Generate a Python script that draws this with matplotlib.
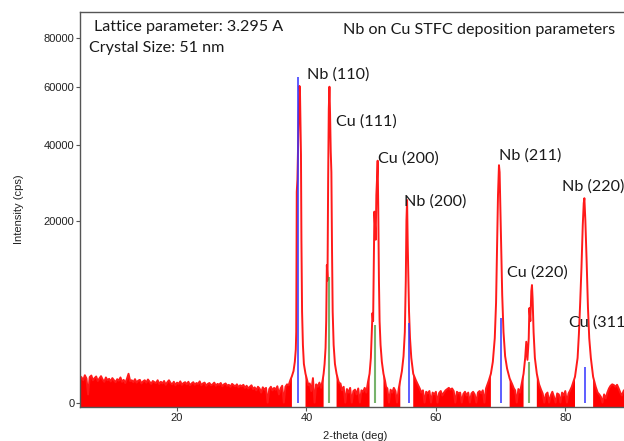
import numpy as np
import matplotlib
matplotlib.use("Agg")
import matplotlib.pyplot as plt

# background noise, 0.25 deg steps (start, counts)
bg_segments = [
    (5.0, [420, 380, 300, 450, 350, 40, 390, 440, 300, 360,
           410, 280, 350, 420, 320, 260, 380, 300, 340, 270,
           360, 300, 250, 330, 290, 380, 260, 310, 230, 340,
           500, 280, 300, 250, 330, 240, 290, 310, 220, 270,
           300, 240, 320, 260, 210, 280, 250, 230, 300, 210,
           260, 220, 280, 190, 250, 300, 230, 200, 260, 180,
           240, 210, 270, 190, 230, 250, 200, 260, 180, 220,
           250, 190, 230, 210, 270, 180, 220, 240, 170, 210,
           230, 180, 200, 240, 170, 210, 190, 230, 160, 200,
           220, 170, 190, 150, 210, 180, 160, 200, 140, 180,
           160, 190, 130, 170, 120, 150, 180, 110, 140, 90,
           150, 120, 60, 140, 100, 130, 0, 110, 150, 90,
           130, 100, 160, 40, 120, 170, 0, 150, 200, 180]),
    (40.5, [220, 80, 360, 0, 200, 150, 240, 130]),
    (45.25, [220, 90, 150, 0, 110, 60, 130, 0, 80, 100, 40, 120, 0, 90, 70, 130, 60]),
    (52.5, [120, 0, 100, 60, 130, 80, 0, 110]),
    (57.5, [120, 60, 90, 0, 70, 50, 80, 0, 60,
            40, 70, 0, 55, 80, 30, 60, 90, 110, 130,
            100, 120, 80, 0, 70, 50, 60, 0, 45, 70,
            30, 60, 0, 50, 70, 40, 0, 60, 80, 50,
            90, 0, 120]),
    (72.25, [90, 0, 110, 60]),
    (76.5, [50, 0, 40, 60, 0, 30, 70, 20, 0, 50, 40, 0, 60, 30, 80, 0, 50, 90]),
    (85.5, [20, 0, 40, 10, 60, 120, 170, 200, 185, 150, 190, 120, 60, 30, 80, 110, 60, 90, 130]),
]

# peak profiles (2-theta, counts)
nb110 = [(37.5, 300), (37.75, 420), (38.0, 600), (38.2, 1000), (38.35, 1700), (38.42, 3000),
         (38.5, 26800), (38.6, 30000), (38.7, 40000), (38.8, 50000), (38.92, 60500),
         (39.0, 58000), (39.08, 45000), (39.15, 37000), (39.22, 16000), (39.32, 5000),
         (39.45, 2000), (39.6, 900), (39.85, 500), (40.1, 300), (40.3, 180)]
cu111 = [(42.5, 300), (42.65, 500), (42.8, 900), (42.95, 1800), (43.05, 4000), (43.15, 11400),
         (43.25, 9000), (43.35, 30000), (43.45, 52000), (43.55, 60200), (43.65, 50000),
         (43.75, 38000), (43.85, 32000), (43.95, 14000), (44.05, 5000), (44.2, 2000),
         (44.4, 900), (44.65, 500), (44.9, 300), (45.05, 230)]
cu200 = [(49.5, 250), (49.75, 500), (49.95, 1200), (50.1, 3000), (50.2, 4830), (50.3, 4000),
         (50.4, 12000), (50.5, 22000), (50.6, 19000), (50.7, 16000), (50.8, 26000),
         (50.9, 30000), (51.0, 35300), (51.1, 22000), (51.2, 9000), (51.3, 4000),
         (51.45, 2000), (51.65, 1000), (51.9, 500), (52.15, 280), (52.3, 150)]
nb200 = [(54.5, 300), (54.75, 600), (55.0, 1300), (55.2, 3000), (55.35, 9000), (55.45, 20000),
         (55.55, 24750), (55.65, 15000), (55.75, 9000), (55.85, 5000), (56.0, 2500),
         (56.2, 1200), (56.5, 500), (56.9, 300), (57.2, 200)]
nb211 = [(68.2, 300), (68.5, 500), (68.8, 1000), (69.1, 2500), (69.3, 6000), (69.45, 14000),
         (69.6, 26000), (69.75, 34000), (69.85, 32000), (69.95, 24000), (70.1, 15000),
         (70.25, 7000), (70.45, 3000), (70.7, 1300), (71.0, 700), (71.4, 350), (71.8, 200),
         (72.05, 120)]
cu220 = [(73.3, 250), (73.55, 500), (73.8, 1200), (73.97, 2230), (74.15, 1100), (74.35, 2500),
         (74.45, 5390), (74.6, 4000), (74.75, 7500), (74.85, 8330), (74.95, 6500),
         (75.1, 3000), (75.3, 1200), (75.6, 500), (75.95, 200), (76.25, 100)]
nb220 = [(81.0, 150), (81.5, 400), (81.9, 1200), (82.1, 2800), (82.3, 6000), (82.5, 11000),
         (82.7, 19000), (82.85, 24000), (82.95, 25200), (83.1, 20000), (83.3, 12000),
         (83.5, 5500), (83.7, 2500), (83.95, 1200), (84.3, 400), (84.7, 150), (85.0, 60),
         (85.25, 40)]

# reference lines
nb_ref_pos = [38.76, 55.87, 70.05, 83.04]
nb_ref_int = [63850, 3800, 4340, 773]
cu_ref_pos = [43.45, 50.6, 74.38]
cu_ref_int = [9450, 3630, 1000]

peak_labels = ["Nb (110)", "Cu (111)", "Cu (200)", "Nb (200)", "Nb (211)", "Cu (220)", "Nb (220)", "Cu (311)"]
label_x = [40.1, 44.59, 51.08, 55.1, 69.79, 71.03, 79.53, 80.62]
label_y = [64760, 47530, 35800, 24280, 36680, 10125, 28030, 3910]

pts = []
for start, vals in bg_segments:
    for i, v in enumerate(vals):
        pts.append((start + 0.25 * i, v))
for pk in [nb110, cu111, cu200, nb200, nb211, cu220, nb220]:
    pts.extend(pk)
pts.sort()
two_theta = np.array([p[0] for p in pts])
counts = np.array([p[1] for p in pts], dtype=float)


def fwd(v):
    v = np.asarray(v, dtype=float)
    return np.sign(v) * np.sqrt(np.abs(v))


def inv(v):
    v = np.asarray(v, dtype=float)
    return np.sign(v) * v ** 2


fig = plt.figure(figsize=(6.24, 4.41), dpi=100)
ax = fig.add_axes([80 / 624, 1 - 407 / 441, 550 / 624, 395 / 441])
ax.set_yscale('function', functions=(fwd, inv))

# noisy background looks solid in the original scan
ax.fill_between(two_theta, -12, counts, where=counts <= 520, color='red', lw=0)
ax.plot(two_theta, counts, color='#ff1a1a', lw=1.4)
ax.vlines(nb_ref_pos, 0, nb_ref_int, color='#3333ff', lw=1.3, alpha=0.85)
ax.vlines(cu_ref_pos, 0, cu_ref_int, color='#4a9a3a', lw=1.5, alpha=0.75)

ax.set_xlim(5, 90)
ax.set_ylim(-12, 92060)
ax.set_yticks([0, 20000, 40000, 60000, 80000])
ax.set_xticks([20, 40, 60, 80])
ax.yaxis.set_minor_locator(matplotlib.ticker.NullLocator())

tick_font = 'Liberation Sans'
for lab in ax.get_xticklabels() + ax.get_yticklabels():
    lab.set_fontfamily(tick_font)
    lab.set_fontsize(8)
ax.tick_params(length=3, width=0.8, color='#555555', labelcolor='#222222', pad=1)
ax.set_xlabel('2-theta (deg)', fontsize=8, family=tick_font, color='#222222', labelpad=6)
ax.set_ylabel('Intensity (cps)', fontsize=8, family=tick_font, color='#222222', labelpad=14)
for s in ['left', 'bottom', 'top']:
    ax.spines[s].set_color('#555555')
    ax.spines[s].set_linewidth(1.0)
ax.spines['right'].set_visible(False)

anno_font = 'Lato'
anno_size = 11.6
for t, x, y in zip(peak_labels, label_x, label_y):
    ax.text(x, y, t, fontsize=anno_size, family=anno_font, color='#1a1a1a', ha='left', va='center', clip_on=False)

fig.text(94 / 624, 1 - 27 / 441, 'Lattice parameter: 3.295 A', fontsize=anno_size, family=anno_font,
         color='#1a1a1a', ha='left', va='center')
fig.text(89 / 624, 1 - 48 / 441, 'Crystal Size: 51 nm', fontsize=anno_size, family=anno_font,
         color='#1a1a1a', ha='left', va='center')
fig.text(343 / 624, 1 - 30 / 441, 'Nb on Cu STFC deposition parameters', fontsize=anno_size, family=anno_font,
         color='#1a1a1a', ha='left', va='center')

fig.savefig('out.png', dpi=100)
